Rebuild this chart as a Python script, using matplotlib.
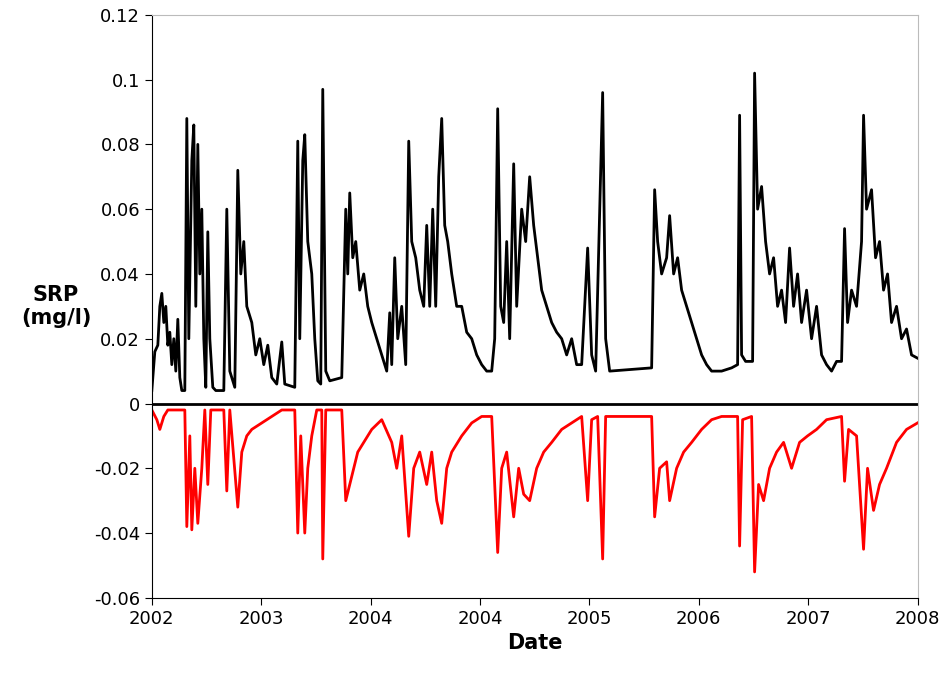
import numpy as np
import matplotlib.pyplot as plt

# x is position along the date axis (0 = start of 2002, 766 = start of 2008)
blk_x = [0,3,6,8,10,12,14,16,18,20,22,24,26,28,30,33,35,37,40,42,44,46,48,50,52,54,56,58,61,64,72,75,78,83,86,89,92,95,100,104,108,112,116,120,125,130,133,143,146,148,151,153,156,160,163,166,169,171,174,178,190,194,196,198,201,204,208,212,216,220,225,230,235,238,240,243,246,250,254,257,260,264,268,272,275,278,281,284,287,290,293,296,300,305,310,315,320,325,330,335,340,343,346,349,352,355,358,362,365,370,374,378,382,386,390,395,400,405,410,415,420,425,430,436,440,444,451,454,458,500,503,506,510,515,518,522,526,530,535,540,545,550,555,560,570,580,586,588,590,594,601,603,606,610,614,618,622,626,630,634,638,642,646,650,655,660,665,670,675,680,685,690,693,696,700,705,710,712,715,720,724,728,732,736,740,745,750,755,760,766]
blk_y = [0.004,0.016,0.018,0.03,0.034,0.025,0.03,0.018,0.022,0.012,0.02,0.01,0.026,0.008,0.004,0.004,0.088,0.02,0.075,0.086,0.03,0.08,0.04,0.06,0.02,0.005,0.053,0.02,0.005,0.004,0.004,0.06,0.01,0.005,0.072,0.04,0.05,0.03,0.025,0.015,0.02,0.012,0.018,0.008,0.006,0.019,0.006,0.005,0.081,0.02,0.075,0.083,0.05,0.04,0.02,0.007,0.006,0.097,0.01,0.007,0.008,0.06,0.04,0.065,0.045,0.05,0.035,0.04,0.03,0.025,0.02,0.015,0.01,0.028,0.012,0.045,0.02,0.03,0.012,0.081,0.05,0.045,0.035,0.03,0.055,0.03,0.06,0.03,0.07,0.088,0.055,0.05,0.04,0.03,0.03,0.022,0.02,0.015,0.012,0.01,0.01,0.02,0.091,0.03,0.025,0.05,0.02,0.074,0.03,0.06,0.05,0.07,0.055,0.045,0.035,0.03,0.025,0.022,0.02,0.015,0.02,0.012,0.012,0.048,0.015,0.01,0.096,0.02,0.01,0.011,0.066,0.05,0.04,0.045,0.058,0.04,0.045,0.035,0.03,0.025,0.02,0.015,0.012,0.01,0.01,0.011,0.012,0.089,0.015,0.013,0.013,0.102,0.06,0.067,0.05,0.04,0.045,0.03,0.035,0.025,0.048,0.03,0.04,0.025,0.035,0.02,0.03,0.015,0.012,0.01,0.013,0.013,0.054,0.025,0.035,0.03,0.05,0.089,0.06,0.066,0.045,0.05,0.035,0.04,0.025,0.03,0.02,0.023,0.015,0.014]

red_x = [0,5,8,12,16,22,30,33,35,38,40,43,46,50,53,56,59,72,75,78,86,90,95,100,110,120,130,143,146,149,153,156,160,165,170,171,174,190,194,198,202,206,212,220,230,240,245,250,257,262,268,275,280,285,290,295,300,310,320,330,340,346,350,355,362,367,372,378,385,392,400,410,420,430,436,440,446,451,454,500,503,508,515,518,525,532,540,550,560,570,586,588,591,600,603,607,612,618,625,632,640,648,656,665,675,690,693,697,705,712,716,722,728,735,745,755,766]
red_y = [-0.002,-0.005,-0.008,-0.004,-0.002,-0.002,-0.002,-0.002,-0.038,-0.01,-0.039,-0.02,-0.037,-0.02,-0.002,-0.025,-0.002,-0.002,-0.027,-0.002,-0.032,-0.015,-0.01,-0.008,-0.006,-0.004,-0.002,-0.002,-0.04,-0.01,-0.04,-0.02,-0.01,-0.002,-0.002,-0.048,-0.002,-0.002,-0.03,-0.025,-0.02,-0.015,-0.012,-0.008,-0.005,-0.012,-0.02,-0.01,-0.041,-0.02,-0.015,-0.025,-0.015,-0.03,-0.037,-0.02,-0.015,-0.01,-0.006,-0.004,-0.004,-0.046,-0.02,-0.015,-0.035,-0.02,-0.028,-0.03,-0.02,-0.015,-0.012,-0.008,-0.006,-0.004,-0.03,-0.005,-0.004,-0.048,-0.004,-0.004,-0.035,-0.02,-0.018,-0.03,-0.02,-0.015,-0.012,-0.008,-0.005,-0.004,-0.004,-0.044,-0.005,-0.004,-0.052,-0.025,-0.03,-0.02,-0.015,-0.012,-0.02,-0.012,-0.01,-0.008,-0.005,-0.004,-0.024,-0.008,-0.01,-0.045,-0.02,-0.033,-0.025,-0.02,-0.012,-0.008,-0.006]

x_labels = ["2002", "2003", "2004", "2004", "2005", "2006", "2007", "2008"]
y_ticks = [0.12, 0.1, 0.08, 0.06, 0.04, 0.02, 0, -0.02, -0.04, -0.06]

fig = plt.figure(figsize=(9.43, 6.74), dpi=100)
ax = fig.add_axes([0.161, 0.113, 0.812, 0.865])
ax.plot(blk_x, blk_y, color="black", lw=2)
ax.plot(red_x, red_y, color="red", lw=2)
ax.axhline(0, color="black", lw=2)

ax.set_xlim(0, 766)
ax.set_ylim(-0.06, 0.12)
ax.set_xticks(np.linspace(0, 766, 8))
ax.set_xticklabels(x_labels, fontsize=13)
ax.set_yticks(y_ticks)
ax.set_yticklabels([("%g" % v) for v in y_ticks], fontsize=13)
ax.tick_params(direction="out", length=5)
for s in ["top", "right"]:
    ax.spines[s].set_color("#bbbbbb")

ax.set_xlabel("Date", fontsize=15, fontweight="bold")
ax.text(-0.125, 0.5, "SRP\n(mg/l)", transform=ax.transAxes, fontsize=15,
        fontweight="bold", ha="center", va="center")

fig.savefig("out.png")
